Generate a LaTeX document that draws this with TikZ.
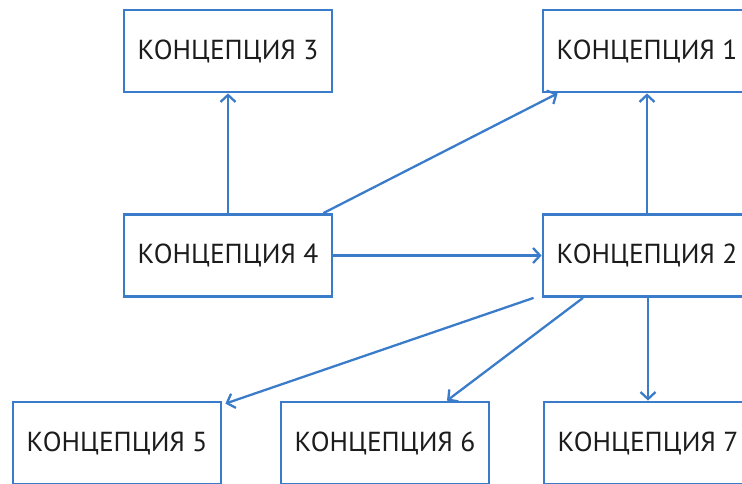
\documentclass[tikz,border=0pt]{standalone}
\usepackage{fontspec}
\setmainfont{PT Sans}
\usetikzlibrary{arrows.meta}
\definecolor{concept blue}{HTML}{3A7CC9}
\definecolor{concept text}{HTML}{1C1C1C}
\tikzset{
  concept/.style={draw=concept blue, line width=2.8pt, fill=white, minimum width=208pt, minimum height=82pt, inner sep=0pt, text=concept text, font=\fontsize{27.5}{32}\selectfont},
  link/.style={draw=concept blue, line width=2.3pt, -{Straight Barb[length=7pt,width=15pt,line width=2.3pt]}}
}
\begin{document}
\begin{tikzpicture}[x=1pt, y=1pt]
    \useasboundingbox (0,0) rectangle (742,484);
    \node[concept] (k3) at (228,433) {КОНЦЕПЦИЯ 3};
    \node[concept] (k1) at (647,433) {КОНЦЕПЦИЯ 1};
    \node[concept] (k4) at (228,228.5) {КОНЦЕПЦИЯ 4};
    \node[concept] (k2) at (647,228.5) {КОНЦЕПЦИЯ 2};
    \node[concept] (k5) at (117,41) {КОНЦЕПЦИЯ 5};
    \node[concept] (k6) at (385,41) {КОНЦЕПЦИЯ 6};
    \node[concept] (k7) at (648,41) {КОНЦЕПЦИЯ 7};
    \draw[link] (k4) to (k3);
    \draw[link] ([xshift=-10pt]k4.north east) to ([xshift=16pt]k1.south west);
    \draw[link] (k4) to (k2);
    \draw[link] (k2) to (k1);
    \draw[link] ([xshift=-8pt]k2.south west) to ([xshift=3pt,yshift=-3pt]k5.north east);
    \draw[link] ([xshift=-64pt]k2.south) to ([xshift=62pt]k6.north);
    \draw[link] (k2.south -| k7.north) to (k7);
\end{tikzpicture}
\end{document}
